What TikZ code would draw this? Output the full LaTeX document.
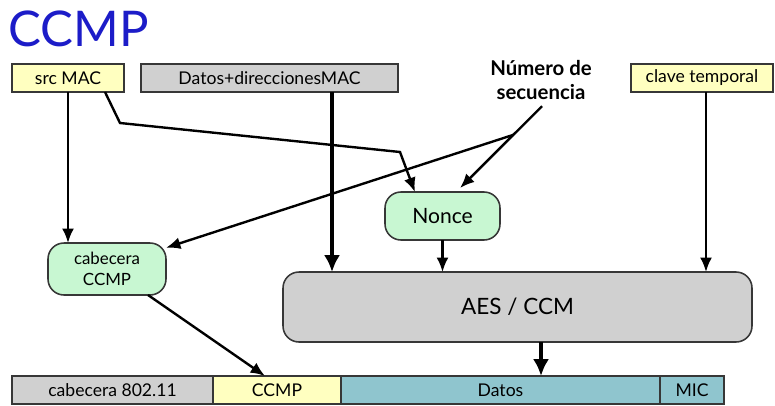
\documentclass[tikz,border=0pt]{standalone}
\usepackage{fontspec}
\setmainfont{Lato}
\usepackage{tikz}
\usetikzlibrary{positioning, calc, arrows.meta}

\definecolor{boxyellow}{RGB}{255,255,192}
\definecolor{boxgray}{RGB}{208,208,208}
\definecolor{boxgreen}{RGB}{200,247,210}
\definecolor{boxteal}{RGB}{143,197,206}
\definecolor{edgegray}{RGB}{55,55,55}
\definecolor{titleblue}{RGB}{28,28,200}

\begin{document}
\begin{tikzpicture}[
        field/.style={draw=edgegray, line width=1.1pt, minimum height=0.7cm, inner sep=0pt, outer sep=0pt, font=\fontsize{12.5}{14}\selectfont},
        block/.style={draw=edgegray, line width=1.1pt, rounded corners=0.4cm, inner sep=0pt, outer sep=0pt},
        flow/.style={line width=1.7pt, -{Latex[length=3.6mm, width=3mm]}},
        bigflow/.style={line width=2.6pt, -{Latex[length=4.2mm, width=4mm]}}
    ]
                    \useasboundingbox (0,0) rectangle (19.375,10.125);

                    \node [anchor=west, inner sep=0pt, text=titleblue, font=\fontsize{35}{40}\selectfont] (title) at (0.2,9.4) {CCMP};

                    \node [field, fill=boxyellow, minimum width=2.8cm  ] (srcmac) at ( 1.7   ,8.175) {src MAC};
                    \node [field, fill=boxgray,   minimum width=6.425cm] (dtop)   at ( 6.7375,8.175) {Datos+direccionesMAC};
                    \node [align=center, font=\fontsize{14.5}{16.5}\selectfont\bfseries] (numero) at (13.525,8.125) {Número de\\secuencia};
                    \node [field, fill=boxyellow, minimum width=3.55cm ] (clave)  at (17.55  ,8.175) {clave temporal};

                    \node [block, fill=boxgreen, minimum width=2.875cm, minimum height=1.2cm, font=\fontsize{15}{17}\selectfont] (nonce) at (11.0625,4.725) {Nonce};
                    \node [block, fill=boxgreen, minimum width=2.95cm, minimum height=1.3cm, align=center, font=\fontsize{12}{15}\selectfont] (cabecera) at (2.675,3.4) {cabecera\\CCMP};
                    \node [block, fill=boxgray, minimum width=11.725cm, minimum height=1.75cm, font=\fontsize{16}{18}\selectfont] (aes) at (12.9375,2.45) {AES / CCM};

                    \node [field, fill=boxgray,   minimum width=5.025cm, anchor=west] (hdr) at (0.3,0.375) {cabecera 802.11};
                    \node [field, fill=boxyellow, minimum width=3.2cm,   right=0pt of hdr ] (ccmp) {CCMP};
                    \node [field, fill=boxteal,   minimum width=7.975cm, right=0pt of ccmp] (dbot) {Datos};
                    \node [field, fill=boxteal,   minimum width=1.6cm,   right=0pt of dbot] (mic)  {MIC};

                    \coordinate (macin)   at ([xshift=0.925cm]srcmac.south);
                    \coordinate (bendone) at (3.0,7.05);
                    \coordinate (bendtwo) at (10.0,6.325);
                    \coordinate (nonceL)  at ([xshift=-0.69cm]nonce.north);
                    \coordinate (nonceR)  at ([xshift=0.44cm, yshift=0.1cm]nonce.north);
                    \coordinate (seqout)  at ([xshift=0.025cm, yshift=-0.05cm]numero.south);
                    \coordinate (seqsplit) at ($(seqout)!0.35!(nonceR)$);
                    \coordinate (cabin)   at ([yshift=-0.12cm]cabecera.north east);
                    \coordinate (dtin)    at ([xshift=1.5625cm]dtop.south);
                    \coordinate (clin)    at ([xshift=0.1cm]clave.south);
                    \coordinate (cabout)  at ([xshift=1.025cm]cabecera.south);
                    \coordinate (aesout)  at ([xshift=0.5875cm]aes.south);

                    \draw [flow] (srcmac.south) -- (srcmac.south |- cabecera.north);
                    \draw [flow] (macin) -- (bendone) -- (bendtwo) -- (nonceL);
                    \draw [bigflow] (dtin) -- (dtin |- aes.north);
                    \draw [flow] (seqout) -- (nonceR);
                    \draw [flow] (seqsplit) -- (cabin);
                    \draw [flow] (nonce.south) -- (nonce.south |- aes.north);
                    \draw [flow] (clin) -- (clin |- aes.north);
                    \draw [flow] (cabout) -- ([xshift=-0.3cm]ccmp.north);
                    \draw [bigflow] (aesout) -- (aesout |- dbot.north);
\end{tikzpicture}
\end{document}
